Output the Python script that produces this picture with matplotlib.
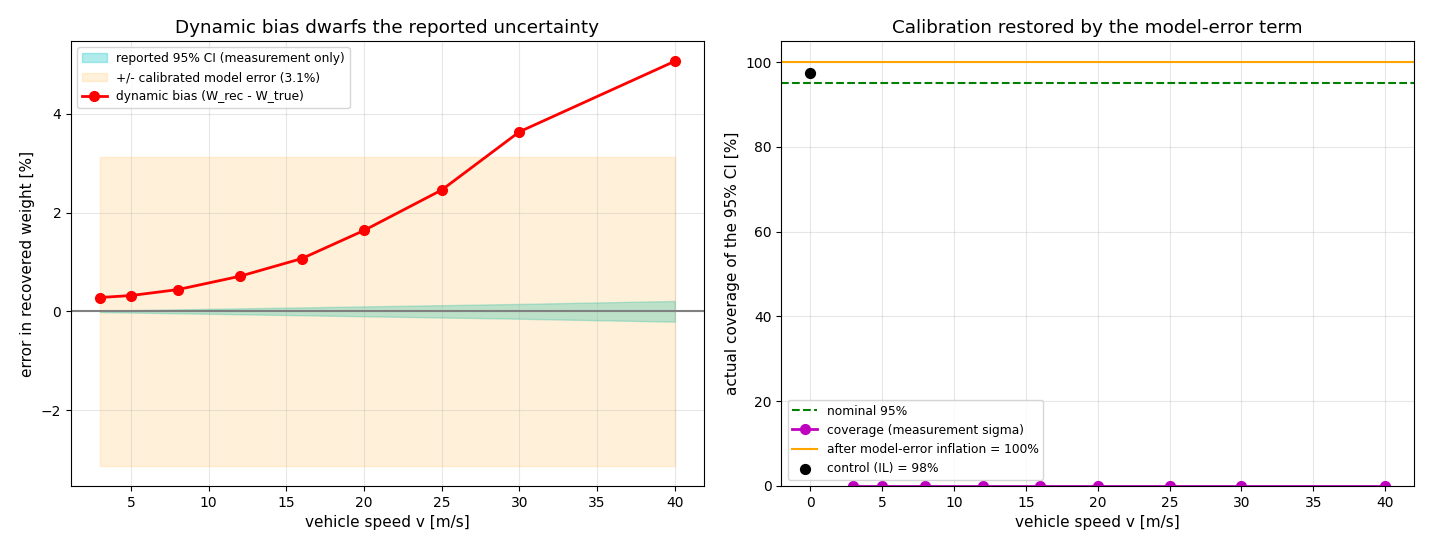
import numpy as np
import matplotlib.pyplot as plt

# vehicle speeds [m/s]
speeds = np.array([3, 5, 8, 12, 16, 20, 25, 30, 40])
# dynamic bias W_rec - W_true [%]
bias = np.array([0.28, 0.32, 0.44, 0.71, 1.07, 1.64, 2.46, 3.64, 5.07])
# reported 95% CI half-width (measurement only) [%]
ci_half = np.array([0.015, 0.025, 0.04, 0.06, 0.08, 0.10, 0.125, 0.15, 0.21])
# calibrated model error [%]
model_err = 3.13

# coverage of the 95% CI [%]
coverage = np.array([0, 0, 0, 0, 0, 0, 0, 0, 0])
nominal = 95
inflated = 100
control_speed = 0
control_cov = 97.5

fig, (ax1, ax2) = plt.subplots(1, 2, figsize=(14.3, 5.5), dpi=100)
fig.subplots_adjust(left=0.0497, right=0.9888, top=0.9255, bottom=0.1164,
                    wspace=0.123)

ax1.fill_between(speeds, -ci_half, ci_half, color='c', alpha=0.3,
                 label='reported 95% CI (measurement only)')
ax1.fill_between(speeds, -model_err, model_err, color='orange', alpha=0.15,
                 label='+/- calibrated model error (3.1%)')
ax1.plot(speeds, bias, 'o-', color='r', lw=2, ms=7,
         label='dynamic bias (W_rec - W_true)')
ax1.axhline(0, color='gray', lw=1.5)
ax1.set_xlabel('vehicle speed v [m/s]', fontsize=11)
ax1.set_ylabel('error in recovered weight [%]', fontsize=11)
ax1.set_title('Dynamic bias dwarfs the reported uncertainty', fontsize=13.2)
ax1.grid(alpha=0.3)
ax1.legend(loc='upper left', fontsize=8.8)

ax2.axhline(nominal, color='g', ls='--', lw=1.5, label='nominal 95%')
ax2.plot(speeds, coverage, 'o-', color='m', lw=2, ms=7,
         label='coverage (measurement sigma)')
ax2.axhline(inflated, color='orange', lw=1.5,
            label='after model-error inflation = 100%')
ax2.scatter([control_speed], [control_cov], color='k', s=50, zorder=5,
            label='control (IL) = 98%')
ax2.set_xlim(-2, 42)
ax2.set_ylim(0, 105)
ax2.set_xlabel('vehicle speed v [m/s]', fontsize=11)
ax2.set_ylabel('actual coverage of the 95% CI [%]', fontsize=11)
ax2.set_title('Calibration restored by the model-error term', fontsize=13.2)
ax2.grid(alpha=0.3)
ax2.legend(loc='lower left', fontsize=8.8)

plt.savefig('out.png')
